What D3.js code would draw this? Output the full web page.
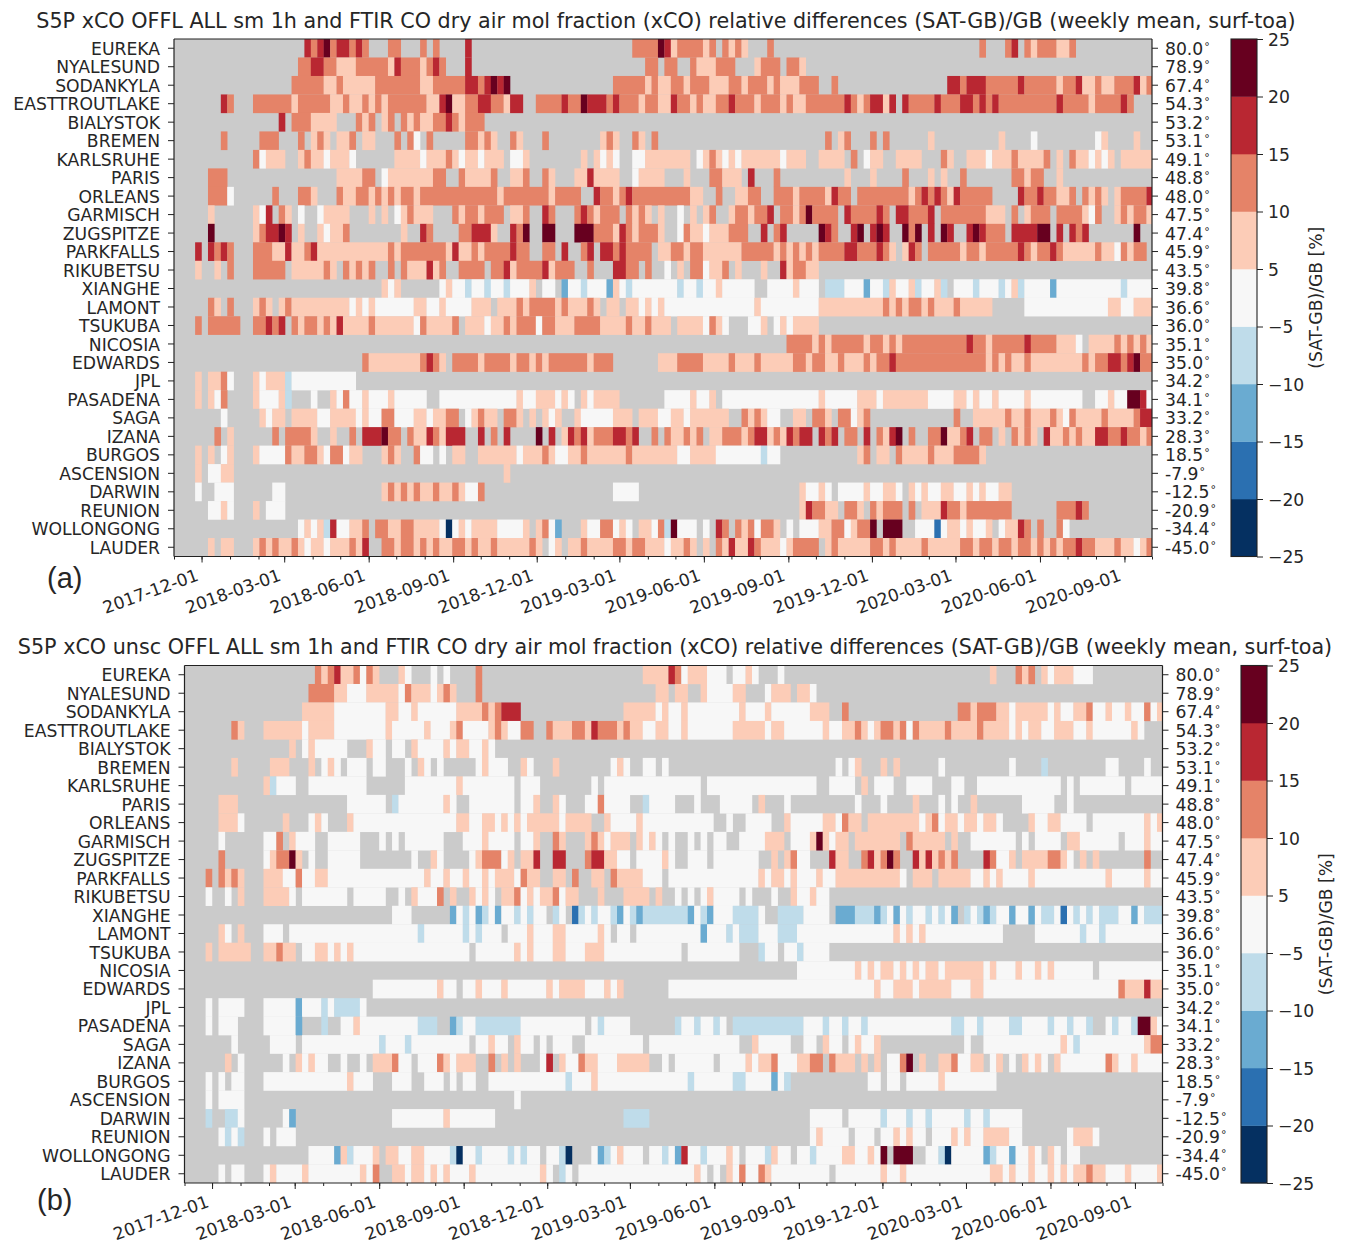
<!DOCTYPE html>
<html><head><meta charset="utf-8">
<script src="https://cdn.jsdelivr.net/npm/d3@7"></script>
<style>html,body{margin:0;padding:0;background:#fff}svg{display:block}text{font-family:"DejaVu Sans",sans-serif;fill:#262626}</style>
</head><body><svg id="c" width="1350" height="1256"></svg>
<script>
const stations=["EUREKA","NYALESUND","SODANKYLA","EASTTROUTLAKE","BIALYSTOK","BREMEN","KARLSRUHE","PARIS","ORLEANS","GARMISCH","ZUGSPITZE","PARKFALLS","RIKUBETSU","XIANGHE","LAMONT","TSUKUBA","NICOSIA","EDWARDS","JPL","PASADENA","SAGA","IZANA","BURGOS","ASCENSION","DARWIN","REUNION","WOLLONGONG","LAUDER"];
const latitudes=["80.0","78.9","67.4","54.3","53.2","53.1","49.1","48.8","48.0","47.5","47.4","45.9","43.5","39.8","36.6","36.0","35.1","35.0","34.2","34.1","33.2","28.3","18.5","-7.9","-12.5","-20.9","-34.4","-45.0"];
const levels=[-25,-20,-15,-10,-5,5,10,15,20,25];
const binColors=["#053061","#2b70b1","#6aabd1","#bfdcea","#f7f7f7","#fcccb7","#e58368","#b92732","#67001f"];
// weekly mean relative difference per class: n,s,m,b = negative bins, w = near zero, l,o,r,d = positive bins, "." = no data
const binValue={n:-22.5,s:-17.5,m:-12.5,b:-7.5,w:0,l:7.5,o:12.5,r:17.5,d:22.5};
const firstWeek="2017-11-03";
const weekCount=152;
const xTickMonths=["2017-12-01","2018-03-01","2018-06-01","2018-09-01","2018-12-01","2019-03-01","2019-06-01","2019-09-01","2019-12-01","2020-03-01","2020-06-01","2020-09-01"];
// run-length rows: count + class
const scaledRows=[
"20. r o r d o 2r o r o 3. 2o 3. o . o 4. r 25. 4o d r l 4o l o . o l o l 3. o 32. o 3. o r . o l 3o 2l o 12.",
"19. 2o 2r 2o 3l 5o l r 3o l o r o 3. r 27. 2o . 2o 2. o 3l 3o 3. l 3o . 2o l",
"18. 5o 2l o 5l 7o 2l 5o 2r o r d r d 16. 5o l o 2l 2o l 3o 3l 2o l 3o l o 3l 3o 2. o 17. 2r o 3r 5o r 5o l 2o r 2l o 2l 3o r l o",
"7. r o 3. 6o l 5o 2l o 2l o l o l 6o 2l r d 2l 2o 2r 2o l 2r 2. 4o r 2o d 3r o r 3o l 2o 2l r 2o l o 2l 2o r 3o l 3o l o 2l 6o r o l o 2r l r . r 4o r 3o 2r o r o r 9o r 4o l 4o r o 3.",
"16. r . 3o 4l 3. o l o . l o . o l o 2l 2o r o l 3o",
"7. o 5. 3o 3. o . l o l . 2l o . 2l 3. o . o w . o 5. 2o l o l 2. o l 3. o 8. l o l 2. o l . o 26. o . l o 3. o . o 6. l 10. l 4. w 9. w l 4. l",
"12. o w 3l 2. l o 2l w 3l w 6. 4l w 3l o l w 2l w 3l . 2w l 8. l . l w l w 2. 2w 7l . w l o l w l w 6l w 3l 2. 4l . o . w 2l 2. 4l 3. o l 2. 3l w 3l o 4l o . l . o 2l w l w l . 5l",
"5. 3o 17. 4l 2o . w 7l 2o 2. o 4l o 2. 2l o 2. o l 3. 2l r 4l 2. w 4l 3. l 3. 2o 3l . r 3. o 10. l 3. l 4. o 3. l . l 2. o 7. 2o l 2o 2. l",
"5. 3o w 6. o 3. 2o l 3. o 2l 2o l o l o l 2o l 12o l 7o l 4o 2. r 2o l o r 9o 2l 2. o 2. 2l 2o 2. 3o l 4o l r 2o . 8o l o r o r o l r 5o 4. r 2o r 2o 2l o . o l o l . l 4o r",
"5. l 6. l w r . o l . w 2. w 4l 3. l . l . w l o 3l 3. o l 2o l 3o . 2l o 2. r o 3. o r o l 3o . o l o l . l 2. w . l . l o 2. l 2o l 2o r . 2o l o d 4o . r 4o r o . 2r 3o r . 7o 3l . o . l 3o . 4o l w o 2. l o l 2o l",
"5. d 6. l o 2r d r . l 2. l w 2l o 8. l 2. r o 4. 2o 3r l 2. r o d 2. 2d 3. 3d 3o l r o l 3o l 2. w o 2l w 3l 3o 2. r . o r 5. d r o 2. r d . r d r 2. d o d . r . d r 2. r d r 3o . 4r 2d . r . r o r 7. d 2.",
"3. r . r o r o 3. 3o 2l r 2l o r 11l o l 7o l r 2l o l 4o r 2o 2. 2o . r 2. o r . 2r o r 4o . 2l 2o l 2o 6l 5o l o l o l o l 4o 2r 3o r o l . l r o . 5o l 2o l 5o r o l 2o r o 5l o 2l w o l 2o .",
"3. l 2. l . o 3. 5o . 5l o l . o l o l o 2. o . o 3l r l o 2. 4o . 2o r l 4o r l 3o 2. o 3. 2r 2o . o 2. w . l . 2o w 2l o . l 3. l 2. r l 2o 2l",
"32. l w l 6. w l 2w b 2w b 2w b 3w l . 2w . m 2w b 3w m l w b 7w b 2w b 2w l 5w 2. 4w l 3w . 3b 3w m 2w b l 2w l b 2w l b . 3w b 3w b w l b 4w m 10w b 4w",
"5. o l . o 3. l o l . l o 9l w l w l 6w 2l 2w l 4w 3l . 3l o l 4o l o 3l o l . 2l . 2l w l w l 14w l 9w 10l o l o l 2o l o 3l o 5l 5. 13w 2l 2w 3l",
"3. o . 5o 2. 2o r o r . o l 2o l o l r 4l o 6l w o 4l o . 3l w 2l o l 3o w 2o 3l 4o 4l o 2l o 3l . 4l w o l w 3. 2w l . w l w 4l",
"95. 4o l o l 5o l 2o l o l 10o r 2o l 5o r 4o 3l w . 4l o l o l o l",
"29. o 8l o r o l . 4o l 4o l 2o l o l 6o l 3o 7. 3l 4o 4l o 3l o 5l 2o l 2o 2l o 3l o l 2o r 14o l o l o 2l o 8l o l 2o 2r o r d 2o",
"3. l . 2l o w 3. l w 3l b 10w",
"3. l . l w o 4. l 3w l b 3. w 2. l w o 2w l 3w l 5w 2. 12w l 2w 3l w l w . l w 4l 7. 4w l 2w l . 15w l 5w 3l w 7l 4w 2l w l 2w l 4w l 8w 2. 2w l 2w 2d r w",
"7. w 5. l w 2l . 4l 2w 4l w l 2w 2o 3w 2l w 2l 2o . w l o 2l . 2o l . l . l w l 2. l 5w 3l . 3l 2w 2l w 6l 2. o l o l 2w 2. 2l . 2o l . 2o w l o 13. o 2. 5l o 2l o 3l o l w o 4l o 4l o 2r",
"6. o . l 6. o . 4o l 2. l 2. o . 3r d 2o . o 2l r o l 3r 2. r . o . r 4. d . r . l r o r l 3o 2r o r 2. o . o 2l o l o . 2l 3o l o 2r l o l r o 2r . r o r . 2o . r . o l r d . o 2. 2o d 2l o r . 2o . l . o l o l . r 2l o l o 2l 2r 2o r 2o l o",
"3. l . l . w l 3. l 4w o 2l 2o l w 2o w 2l 3. l o l 2. o 2w . w . 2l 2. 6l w 3l o l 2w 2l o 6l o 7l 2w 4l 7w b 2w 12. l o . 2l . o 4l o 3l 4o l",
"3. l . 2w 2l 42. l",
"3. w 2. 3w 6. 2w 15. l o l o l o 2l o 2l o l 2w o 20. 4w 25. l 2w l w . 4w l 2w 2l w . l w l 2w 2l 2w l w l 2w 2l",
"5. 2w l w 3. l . 3w 80. l r 2o 2l . 2o l . o l 3o . o . 3l r 2o l 7o 7. 3o r o",
"19. w l w l b r 2w 2l o . 2o 2l 2o 4l w n w l w 4l 4w l . l o w m 3. l 2w 2o w l w . 2l w o b d 3w . w . r o . o l o w 2o l . w . 3w 2l 2o w l 2o d . 3d 2. 2w w s w 2l w l 2w l . w 2l r o . o 2. o w",
"5. l . 2l 3. l o l o 2l o l w 2l w 3l o l r 2. 2o l 2o l o l o 2l 2o l o 2l o 5l o l . w l . 2l o 4l 2o l 2o 3l w 2l o l . l . o l r 2l r o 3l w l 4o . l o 5l 2o l o 4l o 5l 2o l 2o l 2o l 2o l o l o l 2o r 2o 3l o 2l w l o"
];
const unscaledRows=[
"20. o l o r 2l o w o l 3. l w 3. w . w 4. o 25. 4l r o w 3l 3w . 2w l w 3. w 32. l 3. o l o . l w 3l 3w",
"19. 4o 2l 3w 5l w o 3l w l o l 3. o 27. 2l . 2l 2. l 4w 2l 3. w 3l . 2l w",
"18. 5l 8w 2l 2w l 6w 4l o l o 3r 16. 5l w l 2w l 8w l 3w l 6w 3l 2. o 17. 2o l 3o 2l w 5l w l 2w 2l o 2w l 2w l 2w o w l",
"7. o l 3. 6l w 4l 8w l 5w l 3w l o 4w l o l 2w 2o 2. o 3l 2o l r 3o l o 2l 2w 2l 2w l 7w 5l w 2l 6w l 2w 2l o l w l 2o l o w o 4l o 4l o 4l w l w 2l 2w 3l 2w l 6w l w 3.",
"16. l . w l 5w 3. l 2w . 2w . l 4w l w 2l 2w l w",
"7. l 5. 3l 3. l . w l w . 3w . 2w 3. w . l w . w 5. w l 3w 2. l w 3. l 8. w l w 2. 2w . w 26. w . w l 3. l . l 6. w 10. w 4. b 9. 2w 4. w",
"12. l b 3w 2. 9w 6. 8w l 8w . 3w 8. w . 15w . 17w 2. 4w . l . 3w 2. 4w 3. 2w 2. 13w . w . 7w . 5w",
"5. 3l 17. 6w . b 7w l w 2. 7w . 2w l 2. l w 3. 2w o 4w 2. b 4w 3. w 3. 5w . l 3. w 10. w 3. w 4. l 3. w . w 2. l 7. 5w 2. w",
"5. 3l w 6. l 3. w l w 3. l 16w 2l 2w 2l w l w l w 5l w 4l 2. l 4w l 11w 2. w 2. 4w 2. l 5w 2l w o 2l . 8l w l o w 2l w 2l w 2l w 4. l 2w 2l 4w . 8w l w l",
"5. w 6. 2w o . l 3w 2. 5w 3. w . w . 6w 3. 3w l 4w . 2w l 2. o l 3. l o l w 3l . l w l w . w 2. w . w . 2w 2. 4w 3l . 3w l d l w 2l . 7l . o 5l . l 2. 7w . w . 4w . 2l 6w . 3w l 2w",
"5. o 6. w l 2o d l . w 2. 5w 8. w 2. l w 4. w l 3o w l . 2l r 2. 2r 3. o 2r 2l 2w . 4w l w 2. 3w . 7w 2. l . l o 2w 3. r 2l 2. o r l o d o 2. r l r l o l o 4. r o 2w l . 4l 2o l w . l . l 7. o 2.",
"3. o . o l o l 3. 3l 2w o 2w 2l 15w l 2w l 2w l 2w l w 3l w o 2l 2. 2l . o 2. 2l . o 4l 3w . 14w l w 2l w l 3w l 2w 10l w . 3l . 5l 2w l w l 4w l 11w l 5w l 2w",
"3. w 2. w . l 3. 4l w . 7w . 5w 2. w . l 3w o . l 2. l w l w . 2l o w l w 2l o w 2l 3. l 3. 4l . l 2. w . w . w l 4w . w 3. w 2. l 2w l 2w",
"32. 3w 6. m w b w m b w m 2w b w b 2w . b w . s b w b 2w b m w b m 7b m w b m 3w 4b w 2. 4b 4w . 3m 3b m b w m w b 2w b w b w m . b w b m b 2w m 2w m w 2b w s w b w b w 3b 2w m w 3b",
"5. l w . l 3. 3w . 20w b 6w b w b 3w . 3w l 3w 2l 5w l w . 2w . 10w m 3w b w 3b 3w 3b 15w l w l w l 12w 5. 7w b 2w b 9w",
"3. l . 5l 2. 2l o 2l . 2w 2l w l w l 18w . 6w l w l 3w 2l 3w 3l 12w . 8w 3. b 2w . 2w b 4w",
"95. 9w l w l w 2l w l w l w 2l w 6l w l 3w l 2w l w l 6w . 10w",
"29. 10w l 2w . 2w l 3w l 6w l w 4l 3w l w l 7. 32w l 2w 3l w 5l 3w 2l 21w o 3l r 2l",
"3. w . 4w 3. 5w m 3w b w 4b w",
"3. w . 3w 4. 5w m 3. b 2. 2w l 9w 3b 2. m b 2w 7b 10w . w b 4w 7. b 2w b 2w b w . 11b 3w b 2w b 2w b 13w 2b 2w b 4w 2b 4w b 2w b 2w b 2. w b 2w b 2d l w",
"7. w 5. 4w . 12w b 3w b 9w . 2w l 2w . l 2w . w . 3w 2. 9w . 14w 2. l 5w 2. 2w . l 2w . w l 2w l 13. w 2. 12w l w b 10w l 2o",
"6. l . w 6. w . l w l 2w 2. w 2. w . 3l o 2w . 3w o l w 3l 2. o . l . l 3. w r . l 2w o 2l 3w 5l 2. w . 6w . 4w l w 2l o 3w 2l 2o . o 3l . l . l . 2w o d . l 2. 2l o 2w 2l . w l . w . l w l w . l 7w o l 2w l 4w",
"3. w . w . 2w 3. 13w l 3w 3. 3w 2. 3w . w . 2w 2. 12w b 3w l 14w b 6w 2b 4w m w b 12. 2w . 2w . 5w l 8w",
"3. w . 4w 42. w",
"3. b 2. 2b w 6. w m 15. 8w l 7w 20. 4b 25. 5w . 5w b 3w b 2w b 5w b 2w b 5w",
"5. w b w b 3. w . 3w 80. w l 4w . 3w . 2w l w l 2w . 3w l w l 2w 4l 2w 7. w 3l w",
"19. 4w m l b 3w l . 2l 2w 2l 4w b n 2w b 4w b w b 2w . 2w b n 3. w m b w l 3w . 2w b w m r 2w b 3w l w . 3w b l 2w . 2w b 4w 2l 2w l w d . 3d 2. 2w b n 5w m b 2w m 2w l w . l w . 2w",
"5. w . 2w 3. w l 4w l 8w l w o 2. 2l w 2l w l w l 3w l 10w l w . b w . 18w l w . w . l w o 2w o l 9w . 7w l 2w l 13w 2l w l 2w l 2w l w l w 2l o 2l 3w l 4w l"
];
const panels=[
 {rows:scaledRows,title:"S5P xCO OFFL ALL sm 1h and FTIR CO dry air mol fraction (xCO) relative differences (SAT-GB)/GB (weekly mean, surf-toa)",left:174,right:1152,top:39,bottom:556.5,barL:1231,barR:1257,titleX:666,titleY:28,tag:"(a)",tagX:47,tagY:588,labelX:1322},
 {rows:unscaledRows,title:"S5P xCO unsc OFFL ALL sm 1h and FTIR CO dry air mol fraction (xCO) relative differences (SAT-GB)/GB (weekly mean, surf-toa)",left:184.5,right:1162.5,top:665.5,bottom:1183,barL:1241,barR:1267,titleX:675,titleY:654,tag:"(b)",tagX:37,tagY:1210,labelX:1332}
];
const svg=d3.select("#c");
const color=d3.scaleThreshold().domain(levels.slice(1,-1)).range(binColors);
const parse=d3.utcParse("%Y-%m-%d"),fmt=d3.utcFormat("%Y-%m-%d");
const decode=s=>{const o=[];s.trim().split(/\s+/).forEach(t=>{const m=t.match(/^(\d*)(.)$/);const n=m[1]?+m[1]:1;for(let i=0;i<n;i++)o.push(m[2]==="."?null:binValue[m[2]]);});while(o.length<weekCount)o.push(null);return o.slice(0,weekCount);};
const runs=vals=>{const o=[];vals.forEach((v,i)=>{if(v===null)return;const l=o[o.length-1];if(l&&l.v===v&&l.end===i)l.end=i+1;else o.push({v,start:i,end:i+1});});return o;};
const weeks=d3.utcDay.range(parse(firstWeek),d3.utcDay.offset(parse(firstWeek),7*weekCount+1),7);
const fs=17.2;
panels.forEach((p,pi)=>{
 const g=svg.append("g");
 const x=d3.scaleUtc().domain([parse("2017-11-01"),parse("2020-10-01")]).range([p.left,p.right]);
 const y=d3.scaleBand().domain(stations).range([p.top,p.bottom]).paddingInner(0).paddingOuter(0);
 const clip="clip"+pi;
 svg.append("clipPath").attr("id",clip).append("rect").attr("x",p.left).attr("y",p.top).attr("width",p.right-p.left).attr("height",p.bottom-p.top);
 g.append("rect").attr("x",p.left).attr("y",p.top).attr("width",p.right-p.left).attr("height",p.bottom-p.top).attr("fill","#cbcbcb");
 const cells=g.append("g").attr("clip-path",`url(#${clip})`);
 stations.forEach((st,ri)=>{
  cells.selectAll(null).data(runs(decode(p.rows[ri]))).join("rect")
   .attr("x",d=>x(weeks[d.start])).attr("width",d=>x(weeks[d.end])-x(weeks[d.start])+0.2)
   .attr("y",y(st)).attr("height",y.bandwidth()+0.2).attr("fill",d=>color(d.v));
 });
 const line=(x1,y1,x2,y2)=>g.append("line").attr("x1",x1).attr("y1",y1).attr("x2",x2).attr("y2",y2).attr("stroke","#222").attr("stroke-width",1.2);
 line(p.left,p.top,p.right,p.top);line(p.left,p.bottom,p.right,p.bottom);line(p.left,p.top,p.left,p.bottom);line(p.right,p.top,p.right,p.bottom);
 const gl=g.append("g").attr("transform",`translate(${p.left},0)`).call(d3.axisLeft(y).tickSize(6).tickPadding(8));
 gl.select(".domain").remove();gl.selectAll("line").attr("stroke","#222");gl.selectAll("text").attr("font-size",fs).attr("dy","0.38em").style("font-family",'"DejaVu Sans"').attr("fill","#262626");
 const latOf=new Map(stations.map((s,i)=>[s,latitudes[i]]));
 const gr=g.append("g").attr("transform",`translate(${p.right},0)`).call(d3.axisRight(y).tickSize(6).tickPadding(7).tickFormat(()=>""));
 gr.select(".domain").remove();gr.selectAll("line").attr("stroke","#222");
 gr.selectAll("text").attr("font-size",fs).attr("dy","0.38em").style("font-family",'"DejaVu Sans"').attr("fill","#262626").each(function(s){
   const t=d3.select(this);t.append("tspan").text(latOf.get(s));
   t.append("tspan").attr("dy",-5).attr("dx",1).attr("font-size",11).text("°");
 });
 const major=xTickMonths.map(parse);
 const gb=g.append("g").attr("transform",`translate(0,${p.bottom})`).call(d3.axisBottom(x).tickValues(major).tickSize(6).tickPadding(4).tickFormat(fmt));
 gb.select(".domain").remove();gb.selectAll("line").attr("stroke","#222");
 gb.selectAll("text").attr("font-size",fs).style("font-family",'"DejaVu Sans"').attr("fill","#262626").attr("text-anchor","end").attr("dy",0)
   .attr("transform","translate(-6,14) rotate(-20)");
 const minor=d3.utcMonth.range(parse("2017-11-01"),parse("2020-10-02"));
 g.append("g").attr("transform",`translate(0,${p.bottom})`).call(d3.axisBottom(x).tickValues(minor).tickSize(3).tickFormat("")).call(s=>s.select(".domain").remove()).selectAll("line").attr("stroke","#222");
 g.append("text").attr("x",p.titleX).attr("y",p.titleY).attr("text-anchor","middle").attr("font-size",20.7).text(p.title);
 g.append("text").attr("x",p.tagX).attr("y",p.tagY).style("font-family",'"Liberation Sans"').attr("font-size",29).attr("fill","#111").text(p.tag);
 const cb=d3.scalePoint().domain(levels).range([p.bottom,p.top]);
 const bw=p.barR-p.barL;
 g.append("g").selectAll("rect").data(binColors).join("rect").attr("x",p.barL).attr("width",bw)
  .attr("y",(c,i)=>cb(levels[i+1])).attr("height",(c,i)=>cb(levels[i])-cb(levels[i+1])+0.3).attr("fill",c=>c);
 g.append("rect").attr("x",p.barL).attr("y",p.top).attr("width",bw).attr("height",p.bottom-p.top).attr("fill","none").attr("stroke","#222").attr("stroke-width",1.1);
 const gc=g.append("g").attr("transform",`translate(${p.barR},0)`).call(d3.axisRight(cb).tickSize(6).tickPadding(5).tickFormat(d=>String(d).replace("-","\u2212")));
 gc.select(".domain").remove();gc.selectAll("line").attr("stroke","#222");gc.selectAll("text").attr("font-size",fs).attr("dy","0.36em").style("font-family",'"DejaVu Sans"').attr("fill","#262626");
 g.append("text").attr("transform",`translate(${p.labelX},${(p.top+p.bottom)/2}) rotate(-90)`).attr("text-anchor","middle").attr("font-size",fs).text("(SAT-GB)/GB [%]");
});
</script></body></html>
